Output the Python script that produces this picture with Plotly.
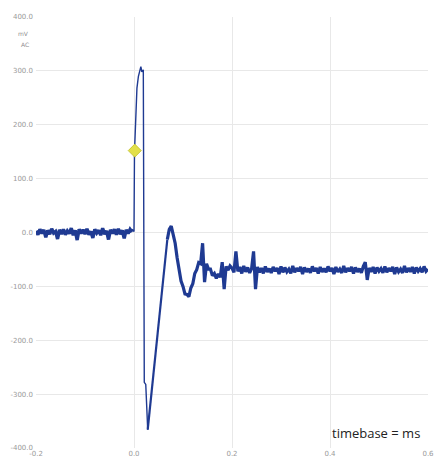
import plotly.graph_objects as go

# ---- data (ms, mV) ----
baseline_start = -0.2
baseline_step = 0.004
baseline_mv = [3, -4, 6, -2, 5, -9, 4, -3, 7, -1, 2, -12, 5, -3, 6, -4, 3, -2, 8, -5,
               4, -14, 6, -2, 5, -3, 7, -4, 2, -10, 6, -1, 4, -5, 8, -3, 3, -13, 5, -2,
               6, -4, 7, -3, 4, -11, 5, -2, 6, 1]

transient_ms = [-0.004, 0.0, 0.001, 0.004, 0.006, 0.009, 0.012, 0.014, 0.016, 0.019, 0.021, 0.024, 0.028]
transient_mv = [6, 2, 150, 230, 268, 290, 300, 308, 298, 302, -278, -282, -366]

rise_ms = [0.028, 0.032, 0.036, 0.040, 0.044, 0.048, 0.052, 0.056, 0.060, 0.064, 0.068]
rise_mv = [-366, -330, -288, -257, -218, -187, -148, -117, -78, -47, -13]

osc_start = 0.068
osc_step = 0.004
osc_mv = [-13, 6, 12, -4, -20, -47, -66,
          -90, -100, -114, -115, -119, -103, -95, -76, -69, -56, -58, -20, -92, -58, -68, -68,
          -80, -76, -85, -77, -83, -55, -105, -63, -70, -62]

settle_start = 0.200
settle_step = 0.004
settle_mv = [-66, -74, -35, -72, -64, -76, -62, -73, -65, -75,
             -67, -35, -105, -64, -74, -66, -76, -63, -73, -67,
             -75, -64, -72, -66, -77, -63, -74, -65, -73, -68,
             -76, -62, -74, -66, -72, -64, -77, -65, -73, -67,
             -75, -63, -72, -66, -76, -64, -73, -67, -74, -63,
             -72, -66, -77, -64, -73, -68, -75, -62, -74, -66,
             -72, -64, -76, -65, -73, -67, -75, -63, -55, -88,
             -66, -73, -64, -76, -65, -72, -67, -75, -63, -74,
             -66, -72, -64, -77, -65, -73, -68, -75, -62, -74,
             -66, -73, -64, -76, -65, -72, -67, -74, -63, -72,
             -68]

marker_ms = [0.0015]
marker_mv = [152]

x_ticks = [-0.2, 0.0, 0.2, 0.4, 0.6]
x_tick_labels = ["-0.2", "0.0", "0.2", "0.4", "0.6"]
y_ticks = [400, 300, 200, 100, 0, -100, -200, -300, -400]
y_tick_labels = ["400.0", "300.0", "200.0", "100.0", "0.0", "-100.0", "-200.0", "-300.0", "-400.0"]

trace_color = "#1f3a92"

# ---- assemble traces ----
base_t = [round(baseline_start + i * baseline_step, 4) for i in range(len(baseline_mv))]
late_t = [round(osc_start + i * osc_step, 4) for i in range(len(osc_mv))]
late_t += [round(settle_start + i * settle_step, 4) for i in range(len(settle_mv))]
late_v = osc_mv + settle_mv

fig = go.Figure()
fig.add_trace(go.Scatter(x=base_t, y=baseline_mv, mode="lines",
                         line=dict(color=trace_color, width=3.4),
                         hoverinfo="skip", showlegend=False))
fig.add_trace(go.Scatter(x=transient_ms, y=transient_mv, mode="lines",
                         line=dict(color=trace_color, width=1.4),
                         hoverinfo="skip", showlegend=False))
fig.add_trace(go.Scatter(x=rise_ms, y=rise_mv, mode="lines",
                         line=dict(color=trace_color, width=2.2),
                         hoverinfo="skip", showlegend=False))
fig.add_trace(go.Scatter(x=late_t, y=late_v, mode="lines",
                         line=dict(color=trace_color, width=3.2),
                         hoverinfo="skip", showlegend=False))
fig.add_trace(go.Scatter(x=marker_ms, y=marker_mv, mode="markers",
                         marker=dict(symbol="diamond", size=10, color="#e2e04a",
                                     line=dict(color="#c8c838", width=1)),
                         showlegend=False))

grid = "#e8e8e8"
fig.update_layout(
    width=434, height=461,
    margin=dict(l=36, r=6, t=17, b=13),
    paper_bgcolor="white", plot_bgcolor="white",
    font=dict(family="DejaVu Sans", size=7, color="#9a9a9a"),
    xaxis=dict(range=[-0.2, 0.6], tickvals=x_ticks, ticktext=x_tick_labels,
               showgrid=True, gridcolor=grid, gridwidth=1, zeroline=False,
               showline=False, ticks="", ticklabeloverflow="allow", automargin=False,
               tickfont=dict(size=7, color="#9a9a9a")),
    yaxis=dict(range=[-400, 400], tickvals=y_ticks, ticktext=y_tick_labels,
               showgrid=True, gridcolor=grid, gridwidth=1, zeroline=False,
               showline=False, ticks="", ticklabelstandoff=2, automargin=False,
               tickfont=dict(size=7, color="#9a9a9a")),
    annotations=[
        dict(text="mV", xref="paper", yref="paper", x=-0.012, y=0.962,
             xanchor="right", yanchor="middle", showarrow=False,
             font=dict(size=6, color="#8f8f8f")),
        dict(text="AC", xref="paper", yref="paper", x=-0.012, y=0.936,
             xanchor="right", yanchor="middle", showarrow=False,
             font=dict(size=6, color="#8f8f8f")),
        dict(text="timebase = ms", xref="paper", yref="paper", x=0.985, y=0.034,
             xanchor="right", yanchor="middle", showarrow=False,
             font=dict(family="Open Sans", size=13, color="#222222")),
    ],
)

fig.write_html("out.html")
